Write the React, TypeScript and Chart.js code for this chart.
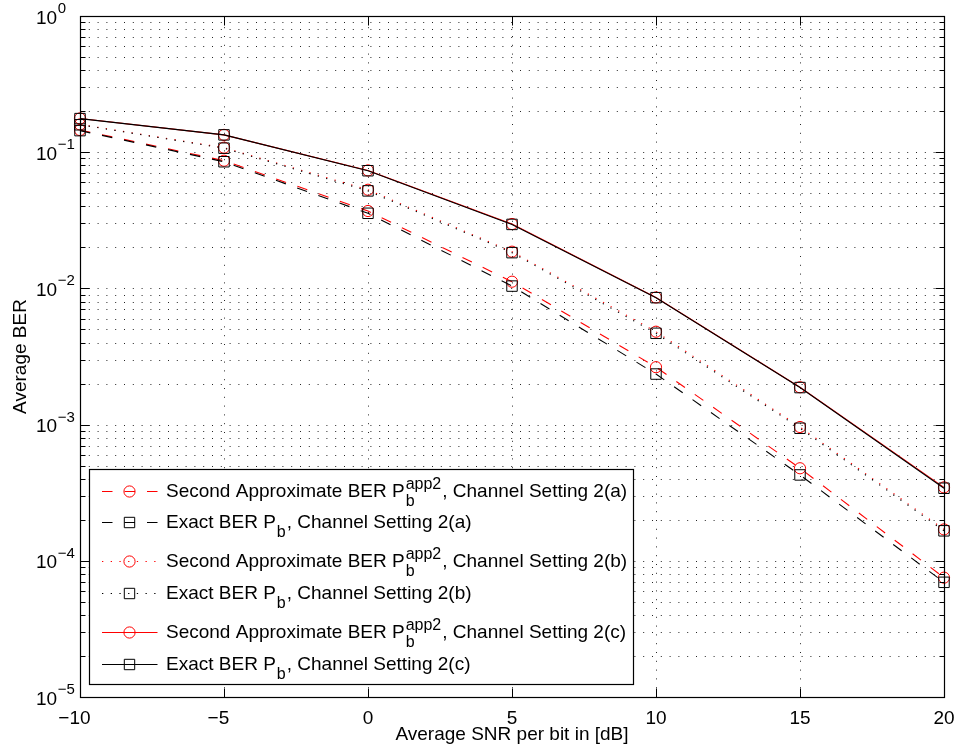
import { useEffect, useRef } from 'react';
import { Chart, registerables } from 'chart.js';

Chart.register(...registerables);

// Average SNR per bit [dB]
const snrDb = [-10, -5, 0, 5, 10, 15, 20];

// Channel setting 2(a)
const approxA = [0.1455, 0.0866, 0.037, 0.0112, 0.00264, 0.000478, 0.0000752];
const exactA = [0.144, 0.0851, 0.0356, 0.0104, 0.00235, 0.000427, 0.0000695];
// Channel setting 2(b)
const approxB = [0.16, 0.108, 0.053, 0.0186, 0.00481, 0.00096, 0.00017];
const exactB = [0.159, 0.107, 0.052, 0.0183, 0.00468, 0.00094, 0.000166];
// Channel setting 2(c)
const approxC = [0.177, 0.134, 0.0735, 0.0297, 0.00858, 0.00188, 0.000346];
const exactC = [0.1765, 0.134, 0.0731, 0.0295, 0.00855, 0.00187, 0.000341];

const xTickValues = [-10, -5, 0, 5, 10, 15, 20];
const yDecadeExponents = [0, -1, -2, -3, -4, -5];
const yMantissas = [1, 2, 3, 4, 5, 6, 7, 8, 9];

const xTitle = 'Average SNR per bit in [dB]';
const yTitle = 'Average BER';

const FONT = '"Liberation Sans", Arial, Helvetica, sans-serif';
const RED = '#ff0000';
const BLACK = '#000000';
const DASHED = [10.5, 12];
const DOTTED = [1.3, 7.4];

type Row = {
  lead: string;
  sup: string | null;
  tail: string;
  color: string;
  dash: number[];
  marker: 'circle' | 'rect';
};

const legendRows: Row[] = [
  { lead: 'Second Approximate BER P', sup: 'app2', tail: ', Channel Setting 2(a)', color: RED, dash: DASHED, marker: 'circle' },
  { lead: 'Exact BER P', sup: null, tail: ', Channel Setting 2(a)', color: BLACK, dash: DASHED, marker: 'rect' },
  { lead: 'Second Approximate BER P', sup: 'app2', tail: ', Channel Setting 2(b)', color: RED, dash: DOTTED, marker: 'circle' },
  { lead: 'Exact BER P', sup: null, tail: ', Channel Setting 2(b)', color: BLACK, dash: DOTTED, marker: 'rect' },
  { lead: 'Second Approximate BER P', sup: 'app2', tail: ', Channel Setting 2(c)', color: RED, dash: [], marker: 'circle' },
  { lead: 'Exact BER P', sup: null, tail: ', Channel Setting 2(c)', color: BLACK, dash: [], marker: 'rect' },
];
const legendBaselines = [497, 528, 567, 599, 638, 670];

function series(values: number[]) {
  return snrDb.map((x, i) => ({ x, y: values[i] }));
}

function makeDataset(values: number[], color: string, dash: number[], marker: 'circle' | 'rect', order: number) {
  return {
    data: series(values),
    borderColor: color,
    borderWidth: 1.1,
    borderDash: dash,
    pointStyle: marker,
    pointRadius: marker === 'circle' ? 5.6 : 7.4,
    pointBorderColor: color,
    pointBackgroundColor: 'rgba(0,0,0,0)',
    pointBorderWidth: 1,
    fill: false,
    tension: 0,
    clip: false,
    order,
  };
}

function drawMarker(ctx: CanvasRenderingContext2D, marker: 'circle' | 'rect', x: number, y: number, color: string) {
  ctx.save();
  ctx.setLineDash([]);
  ctx.strokeStyle = color;
  ctx.lineWidth = 1;
  ctx.beginPath();
  if (marker === 'circle') ctx.arc(x, y, 5.6, 0, Math.PI * 2);
  else ctx.rect(x - 5.2, y - 5.2, 10.4, 10.4);
  ctx.stroke();
  ctx.restore();
}

const matlabAxes = {
  id: 'matlabAxes',
  beforeDatasetsDraw(chart: any) {
    const { ctx, chartArea: a } = chart;
    const xs = chart.scales.x;
    const ys = chart.scales.y;
    ctx.save();
    ctx.strokeStyle = 'rgba(0,0,0,0.85)';
    ctx.lineWidth = 1;
    ctx.setLineDash([1, 7.8]);
    for (const v of xTickValues) {
      const px = Math.round(xs.getPixelForValue(v)) + 0.5;
      if (px <= a.left + 1 || px >= a.right - 1) continue;
      ctx.beginPath();
      ctx.moveTo(px, a.bottom);
      ctx.lineTo(px, a.top);
      ctx.stroke();
    }
    for (const e of yDecadeExponents) {
      for (const m of yMantissas) {
        const v = m * Math.pow(10, e);
        if (v > 1 || v < 1e-5) continue;
        const py = Math.round(ys.getPixelForValue(v)) + 0.5;
        if (py <= a.top + 1 || py >= a.bottom - 1) continue;
        ctx.beginPath();
        ctx.moveTo(a.left, py);
        ctx.lineTo(a.right, py);
        ctx.stroke();
      }
    }
    ctx.restore();
  },
  afterDatasetsDraw(chart: any) {
    const { ctx, chartArea: a } = chart;
    const xs = chart.scales.x;
    const ys = chart.scales.y;
    const L = Math.round(a.left) + 0.5;
    const R = Math.round(a.right) + 0.5;
    const T = Math.round(a.top) + 0.5;
    const B = Math.round(a.bottom) + 0.5;
    ctx.save();
    ctx.setLineDash([]);
    ctx.strokeStyle = '#000';
    ctx.lineWidth = 1.2;
    ctx.strokeRect(L, T, R - L, B - T);

    // inward tick marks on all four sides
    ctx.lineWidth = 1;
    ctx.beginPath();
    for (const v of xTickValues) {
      const px = Math.round(xs.getPixelForValue(v)) + 0.5;
      ctx.moveTo(px, B);
      ctx.lineTo(px, B - 9);
      ctx.moveTo(px, T);
      ctx.lineTo(px, T + 9);
    }
    for (const e of yDecadeExponents) {
      for (const m of yMantissas) {
        const v = m * Math.pow(10, e);
        if (v > 1 || v < 1e-5) continue;
        const py = Math.round(ys.getPixelForValue(v)) + 0.5;
        const len = m === 1 ? 9 : 5;
        ctx.moveTo(L, py);
        ctx.lineTo(L + len, py);
        ctx.moveTo(R, py);
        ctx.lineTo(R - len, py);
      }
    }
    ctx.stroke();

    // tick labels
    ctx.fillStyle = '#000';
    ctx.textBaseline = 'alphabetic';
    ctx.font = `19px ${FONT}`;
    for (const v of xTickValues) {
      const px = xs.getPixelForValue(v);
      const digits = String(Math.abs(v));
      ctx.textAlign = 'center';
      ctx.fillText(digits, px, 724);
      if (v < 0) {
        const w = ctx.measureText(digits).width;
        ctx.textAlign = 'right';
        ctx.fillText('\u2212', px - w / 2, 724);
      }
    }
    for (const e of yDecadeExponents) {
      const py = ys.getPixelForValue(Math.pow(10, e));
      ctx.textAlign = 'left';
      ctx.font = `19px ${FONT}`;
      ctx.fillText('10', 36, py + 7.5);
      const w = ctx.measureText('10').width;
      ctx.font = `15px ${FONT}`;
      ctx.fillText(e === 0 ? '0' : '\u2212' + String(-e), 36 + w + 0.5, py - 3);
    }

    // axis titles
    ctx.font = `19px ${FONT}`;
    ctx.textAlign = 'center';
    ctx.fillText(xTitle, (a.left + a.right) / 2, 740);
    ctx.save();
    ctx.translate(25.5, (a.top + a.bottom) / 2);
    ctx.rotate(-Math.PI / 2);
    ctx.fillText(yTitle, 0, 0);
    ctx.restore();

    // legend box
    const box = { left: 89.5, top: 469.5, right: 633.5, bottom: 684.5 };
    ctx.fillStyle = '#fff';
    ctx.fillRect(box.left, box.top, box.right - box.left, box.bottom - box.top);
    ctx.strokeStyle = '#000';
    ctx.lineWidth = 1.2;
    ctx.strokeRect(box.left, box.top, box.right - box.left, box.bottom - box.top);

    legendRows.forEach((r, i) => {
      const base = legendBaselines[i];
      const cy = Math.round(base - 6.5) + 0.5;
      ctx.save();
      ctx.strokeStyle = r.color;
      ctx.lineWidth = 1.1;
      ctx.setLineDash(r.dash);
      ctx.beginPath();
      ctx.moveTo(102, cy);
      ctx.lineTo(157.5, cy);
      ctx.stroke();
      ctx.restore();
      drawMarker(ctx, r.marker, 129.5, cy, r.color);

      ctx.fillStyle = '#000';
      ctx.textAlign = 'left';
      ctx.font = `19px ${FONT}`;
      let x = 166;
      ctx.fillText(r.lead, x, base);
      x += ctx.measureText(r.lead).width;
      ctx.font = `16px ${FONT}`;
      ctx.fillText('b', x + 1, base + 9);
      let w = ctx.measureText('b').width;
      if (r.sup) {
        ctx.fillText(r.sup, x + 1, base - 8);
        w = Math.max(w, ctx.measureText(r.sup).width);
      }
      x += w + 2;
      ctx.font = `19px ${FONT}`;
      ctx.fillText(r.tail, x, base);
    });
    ctx.restore();
  },
};

export default function App() {
  const canvasRef = useRef<HTMLCanvasElement | null>(null);

  useEffect(() => {
    const canvas = canvasRef.current;
    if (!canvas) return;
    const chart = new Chart(canvas, {
      type: 'line',
      data: {
        datasets: [
          makeDataset(exactA, BLACK, DASHED, 'rect', 0),
          makeDataset(approxA, RED, DASHED, 'circle', 1),
          makeDataset(exactB, BLACK, DOTTED, 'rect', 0),
          makeDataset(approxB, RED, DOTTED, 'circle', 1),
          makeDataset(exactC, BLACK, [], 'rect', 0),
          makeDataset(approxC, RED, [], 'circle', 1),
        ] as any,
      },
      options: {
        animation: false,
        responsive: false,
        devicePixelRatio: 1,
        events: [],
        layout: { padding: { left: 80, right: 13, top: 16, bottom: 57 } },
        plugins: { legend: { display: false }, tooltip: { enabled: false } },
        scales: {
          x: { type: 'linear', min: -10, max: 20, display: false },
          y: { type: 'logarithmic', min: 1e-5, max: 1, display: false },
        },
      },
      plugins: [matlabAxes as any],
    });
    return () => chart.destroy();
  }, []);

  return (
    <div style={{ position: 'absolute', left: 0, top: 0, width: 957, height: 754, background: '#fff' }}>
      <canvas ref={canvasRef} width={957} height={754} style={{ display: 'block', width: 957, height: 754 }} />
    </div>
  );
}
